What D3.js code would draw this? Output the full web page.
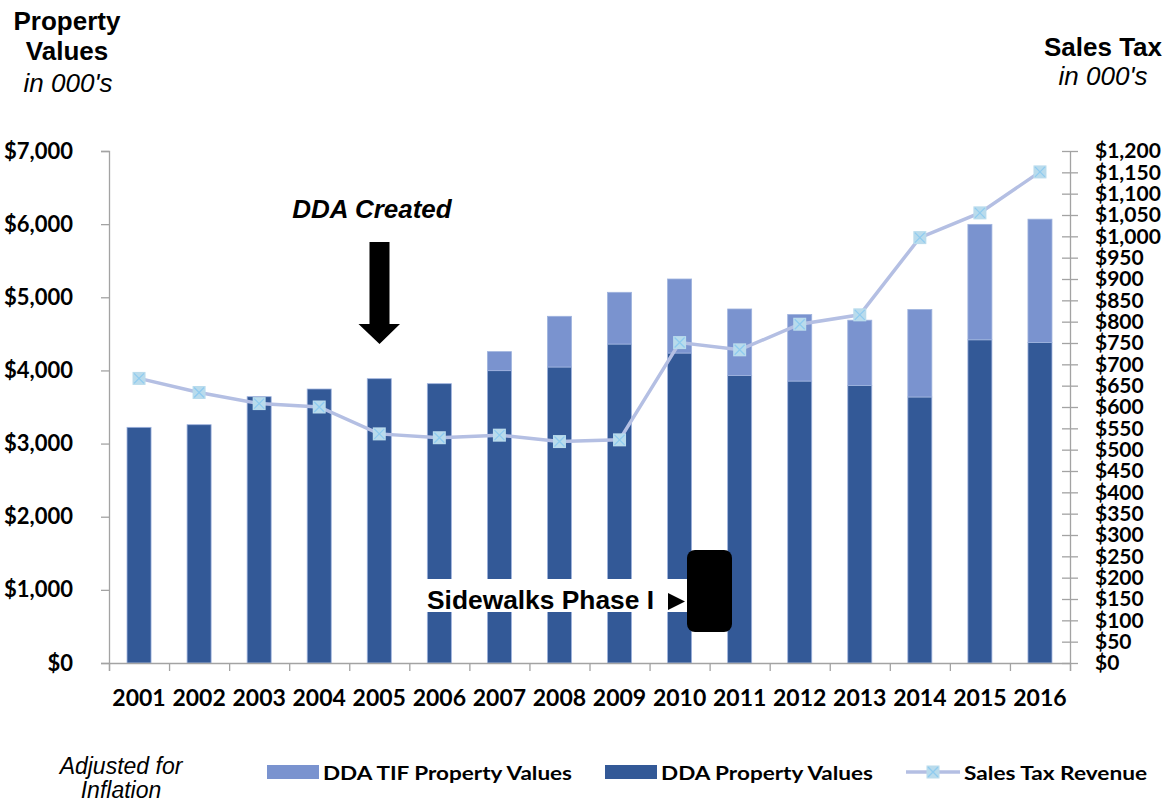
<!DOCTYPE html>
<html>
<head>
<meta charset="utf-8">
<script src="https://cdn.jsdelivr.net/npm/d3@7"></script>
<style>
  html, body { margin: 0; padding: 0; background: #fff; }
  svg { display: block; }
</style>
</head>
<body>
<svg id="chart" width="1171" height="803"></svg>
<script>
// ---- Data ----
const years = ["2001","2002","2003","2004","2005","2006","2007","2008","2009","2010","2011","2012","2013","2014","2015","2016"];
const ddaPropertyValues = [3222,3258,3641,3746,3887,3819,3997,4047,4361,4238,3930,3855,3793,3637,4419,4381];
const ddaTifPropertyValues = [0,0,0,0,0,0,260,693,707,1012,910,910,894,1196,1578,1687];
const salesTaxRevenue = [667,634,608,600,537,528,534,519,523,751,734,794,816,997,1055,1151];
const leftTicks = [0,1000,2000,3000,4000,5000,6000,7000];
const rightTicks = d3.range(0, 1201, 50);
const legendLabels = ["DDA TIF Property Values","DDA Property Values","Sales Tax Revenue"];

// ---- Style ----
const darkBlue = "#335997";
const lightBlue = "#7a93cf";
const barStroke = "#9fb3de";
const lineColor = "#b4bfe3";
const markerFill = "#b9dbec";
const markerX = "#8fcbef";
const axisColor = "#a3a3a3";
const tickFont = "Lato, 'Noto Sans', sans-serif";
const arialFont = "'Liberation Sans', Arial, sans-serif";

const svg = d3.select("#chart");
const L = 109, R = 1070, T = 151, B = 663;

const x = d3.scaleBand().domain(years).range([L, R]).paddingInner(0.6).paddingOuter(0.3);
const xb = d3.scaleLinear().domain([0, years.length]).range([L, R]);
const yL = d3.scaleLinear().domain([0, 7000]).range([B, T]);
const yR = d3.scaleLinear().domain([0, 1200]).range([B, T]);

// ---- Bars ----
const rows = years.map((y, i) => ({ year: y, dda: ddaPropertyValues[i], tif: ddaTifPropertyValues[i] }));
const stack = d3.stack().keys(["dda", "tif"])(rows);
const colors = { dda: darkBlue, tif: lightBlue };
svg.append("g").selectAll("g").data(stack).join("g")
  .attr("fill", d => colors[d.key])
  .selectAll("rect").data(d => d.filter(p => p[1] - p[0] > 0)).join("rect")
  .attr("x", d => x(d.data.year))
  .attr("width", x.bandwidth())
  .attr("y", d => yL(d[1]))
  .attr("height", d => yL(d[0]) - yL(d[1]))
  .attr("stroke", barStroke)
  .attr("stroke-width", 0.8);

// ---- Axes ----
const leftAxis = d3.axisLeft(yL).tickValues(leftTicks).tickSize(8).tickFormat(d => "$" + d3.format(",")(d)).tickPadding(28);
const gl = svg.append("g").attr("transform", `translate(${L},0)`).call(leftAxis);
gl.select(".domain").attr("stroke", axisColor).attr("stroke-width", 1.3);
gl.selectAll(".tick line").attr("stroke", axisColor).attr("stroke-width", 1.3);
gl.selectAll(".tick text").attr("font-family", tickFont).attr("font-weight", 700).attr("font-size", 22).attr("fill", "#000");

const rightAxis = d3.axisRight(yR).tickValues(rightTicks).tickSizeInner(8).tickSizeOuter(0).tickFormat(d => "$" + d3.format(",")(d)).tickPadding(17);
const gr = svg.append("g").attr("transform", `translate(${R},0)`).call(rightAxis);
gr.select(".domain").attr("stroke", axisColor).attr("stroke-width", 1.3);
gr.selectAll(".tick line").attr("x1", -8).attr("stroke", axisColor).attr("stroke-width", 1.3);
gr.selectAll(".tick text").attr("font-family", tickFont).attr("font-weight", 700).attr("font-size", 21).attr("fill", "#000");

// bottom axis line + boundary ticks
const bottomAxis = d3.axisBottom(xb).tickValues(d3.range(0, years.length + 1)).tickSize(8).tickFormat("");
const gb = svg.append("g").attr("transform", `translate(0,${B})`).call(bottomAxis);
gb.select(".domain").attr("stroke", axisColor).attr("stroke-width", 1.3);
gb.selectAll(".tick line").attr("stroke", axisColor).attr("stroke-width", 1.3);

svg.append("g").selectAll("text").data(years).join("text")
  .attr("x", d => x(d) + x.bandwidth() / 2)
  .attr("y", 706)
  .attr("text-anchor", "middle")
  .attr("font-family", tickFont).attr("font-weight", 700).attr("font-size", 23)
  .text(d => d);

// ---- Sales tax line ----
const pts = years.map((y, i) => [x(y) + x.bandwidth() / 2, yR(salesTaxRevenue[i])]);
svg.append("path").datum(pts)
  .attr("d", d3.line())
  .attr("fill", "none").attr("stroke", lineColor).attr("stroke-width", 3.5);
const mk = svg.append("g").selectAll("g").data(pts).join("g")
  .attr("transform", d => `translate(${d[0]},${d[1]})`);
mk.append("rect").attr("x", -6.5).attr("y", -6.5).attr("width", 13).attr("height", 13).attr("fill", markerFill);
mk.append("path").attr("d", "M-5,-5L5,5M5,-5L-5,5").attr("stroke", markerX).attr("stroke-width", 1.3);

// ---- Annotations ----
svg.append("text").attr("x", 372).attr("y", 218).attr("text-anchor", "middle")
  .attr("font-family", arialFont).attr("font-weight", 700).attr("font-style", "italic").attr("font-size", 26)
  .text("DDA Created");
svg.append("path")
  .attr("d", "M369.5,242L389.5,242L389.5,324L400,324L379.5,344L358.5,324L369.5,324Z")
  .attr("fill", "#000");

svg.append("rect").attr("x", 422).attr("y", 579).attr("width", 265).attr("height", 33).attr("fill", "#fff");
svg.append("text").attr("x", 427).attr("y", 609)
  .attr("font-family", arialFont).attr("font-weight", 700).attr("font-size", 26)
  .attr("textLength", 227).attr("lengthAdjust", "spacingAndGlyphs")
  .text("Sidewalks Phase I");
svg.append("path").attr("d", "M668,593L685,601.5L668,610Z").attr("fill", "#000");
svg.append("rect").attr("x", 687).attr("y", 550).attr("width", 45).attr("height", 82).attr("rx", 8).attr("fill", "#000");

// ---- Axis titles ----
const tl = svg.append("g").attr("font-family", arialFont).attr("text-anchor", "middle");
tl.append("text").attr("x", 67).attr("y", 30).attr("font-weight", 700).attr("font-size", 26).text("Property");
tl.append("text").attr("x", 67).attr("y", 60).attr("font-weight", 700).attr("font-size", 26).text("Values");
tl.append("text").attr("x", 68).attr("y", 92).attr("font-style", "italic").attr("font-size", 26).text("in 000's");
tl.append("text").attr("x", 1103).attr("y", 56).attr("font-weight", 700).attr("font-size", 26).text("Sales Tax");
tl.append("text").attr("x", 1103).attr("y", 85).attr("font-style", "italic").attr("font-size", 26).text("in 000's");

tl.append("text").attr("x", 121).attr("y", 774).attr("font-style", "italic").attr("font-size", 23).text("Adjusted for");
tl.append("text").attr("x", 121).attr("y", 798).attr("font-style", "italic").attr("font-size", 23).text("Inflation");

// ---- Legend ----
const lg = svg.append("g").attr("font-family", tickFont).attr("font-weight", 700).attr("font-size", 19);
lg.append("rect").attr("x", 267).attr("y", 765).attr("width", 52).attr("height", 14).attr("fill", lightBlue);
lg.append("text").attr("x", 323).attr("y", 780).attr("textLength", 249).attr("lengthAdjust", "spacingAndGlyphs").text(legendLabels[0]);
lg.append("rect").attr("x", 605).attr("y", 765).attr("width", 52).attr("height", 14).attr("fill", darkBlue);
lg.append("text").attr("x", 661).attr("y", 780).attr("textLength", 212).attr("lengthAdjust", "spacingAndGlyphs").text(legendLabels[1]);
lg.append("line").attr("x1", 906).attr("x2", 960).attr("y1", 772).attr("y2", 772).attr("stroke", lineColor).attr("stroke-width", 3.5);
const lm = lg.append("g").attr("transform", "translate(933,772)");
lm.append("rect").attr("x", -6.5).attr("y", -6.5).attr("width", 13).attr("height", 13).attr("fill", markerFill);
lm.append("path").attr("d", "M-5,-5L5,5M5,-5L-5,5").attr("stroke", markerX).attr("stroke-width", 1.3);
lg.append("text").attr("x", 964).attr("y", 780).attr("textLength", 183).attr("lengthAdjust", "spacingAndGlyphs").text(legendLabels[2]);
</script>
</body>
</html>
